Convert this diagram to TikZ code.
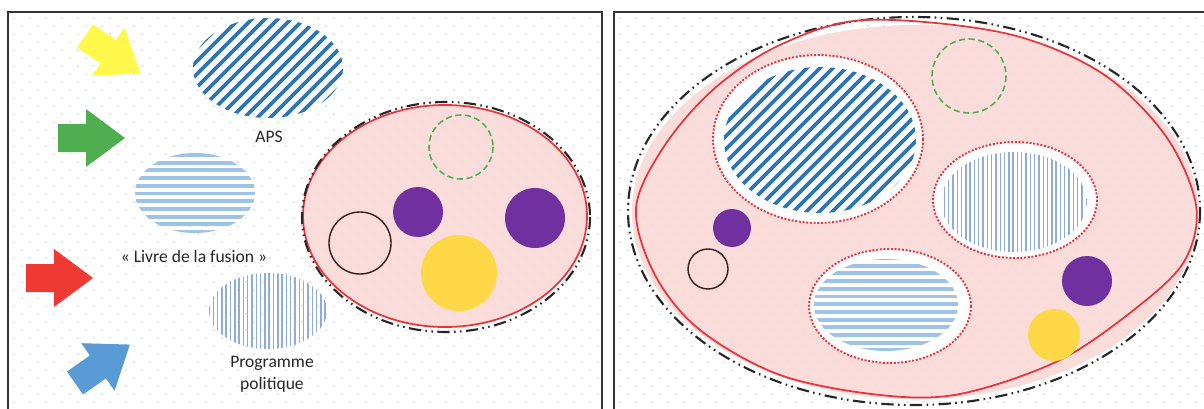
\documentclass[tikz,border=0pt]{standalone}
\usepackage{fontspec}
\setmainfont{Carlito}
\usepackage{xcolor}
\usepackage{tikz}
\definecolor{blobpink}{HTML}{F9D6D5}
\definecolor{blobred}{HTML}{E8343A}
\definecolor{dotpurple}{HTML}{7030A0}
\definecolor{dotgold}{HTML}{FFD848}
\definecolor{greenline}{HTML}{4FB052}
\definecolor{ringbrown}{HTML}{3A1C1C}
\definecolor{apsblue}{HTML}{2E75B6}
\definecolor{livreblue}{HTML}{9DC3E6}
\definecolor{progblue}{HTML}{8FAADC}
\definecolor{arrowyellow}{HTML}{FFF84A}
\definecolor{arrowgreen}{HTML}{4FAE4F}
\definecolor{arrowred}{HTML}{EE3A33}
\definecolor{arrowblue}{HTML}{5B9BD5}

\begin{document}
\begin{tikzpicture}[x=0.02cm,y=-0.02cm,font=\fontsize{10}{12.5}\selectfont,
  frame/.style={draw=black!80,line width=1pt},
  griddot/.style={fill=black!20},
  blobline/.style={draw=blobred,line width=1pt},
  dashdot/.style={draw=black!85,line width=1.2pt,
    dash pattern=on 7pt off 2.5pt on 0.9pt off 2.5pt on 0.9pt off 2.5pt},
  seam/.style={draw=blobred,line width=1.1pt,dash pattern=on 1.2pt off 0.9pt},
  greendash/.style={draw=greenline,line width=0.9pt,dash pattern=on 3.5pt off 2pt},
  ring/.style={draw=ringbrown,line width=0.8pt},
  lbl/.style={align=center,text=black!85,inner sep=1pt},
  bigarrow/.pic={\fill[pic actions] (0,-14) -- (28,-14) -- (28,-29) -- (67,0)
    -- (28,29) -- (28,14) -- (0,14) -- cycle;}]
  \useasboundingbox (0,0) rectangle (1204,409);
  \clip (0,0) rectangle (1204,409);
  % dotted paper
  \begin{scope}
    \clip (8,12) rectangle (602,409);
    \foreach \j in {0,...,50} \foreach \i in {0,...,37}
      \fill[griddot] ({14+16*\i+8*mod(\j,2)},{18+8*\j}) circle[radius=0.9];
  \end{scope}
  \begin{scope}
    \clip (614,12) rectangle (1204,409);
    \foreach \j in {0,...,50} \foreach \i in {0,...,37}
      \fill[griddot] ({620+16*\i+8*mod(\j,2)},{18+8*\j}) circle[radius=0.9];
  \end{scope}

  % left panel: arrows
  \pic[fill=arrowyellow,rotate=-34] at (85,36) {bigarrow};
  \pic[fill=arrowgreen] at (58,138) {bigarrow};
  \pic[fill=arrowred] at (26,278) {bigarrow};
  \pic[fill=arrowblue,rotate=35] at (75,383) {bigarrow};
  % left panel: hatched sources
  \begin{scope}
    \clip (268,68) ellipse[x radius=75,y radius=50];
    \foreach \c in {-91,-78,...,91}
      \draw[apsblue,line width=2.2pt] ({158+\c},178) -- ({378+\c},-42);
  \end{scope}
  \begin{scope}
    \clip (195,193) ellipse[x radius=60,y radius=40];
    \foreach \y in {155,162.7,...,235}
      \draw[livreblue,line width=2.2pt] (130,\y) -- (260,\y);
  \end{scope}
  \begin{scope}
    \clip (268,311) ellipse[x radius=59,y radius=38];
    \foreach \x in {209,213.3,...,328}
      \draw[progblue,line width=0.8pt] (\x,270) -- (\x,352);
  \end{scope}
  \node[lbl] (aps) at (269,137) {APS};
  \node[lbl] (livre) at (194,256) {« Livre de la fusion »};
  \node[lbl] (prog) at (272,374) {Programme\\politique};
  % left panel: blob
  \fill[blobpink,fill opacity=0.85] (445,216) ellipse[x radius=142,y radius=111];
  \draw[greendash] (461,147) circle[radius=32];
  \fill[dotpurple] (418,212) circle[radius=25];
  \fill[dotpurple] (535,218) circle[radius=30];
  \draw[ring] (360,243) circle[radius=31];
  \fill[dotgold] (459,273) circle[radius=38];
  \draw[blobline] (445,216) ellipse[x radius=142,y radius=111];
  \draw[dashdot] (446,217) ellipse[x radius=144,y radius=115];

  % right panel: blob
  \fill[blobpink,fill opacity=0.85] (915,212) ellipse[x radius=283,y radius=187];
  \draw[dashdot] (914,211) ellipse[x radius=286,y radius=194];
  \draw[blobline] plot[smooth cycle,tension=0.55] coordinates {(636,208) (665,145)
    (715,88) (780,45) (865,20) (1004,33) (1100,72) (1165,135) (1196,205)
    (1185,260) (1140,305) (1060,360) (960,394) (880,395) (780,375) (700,330)
    (655,275)};
  % APS inside
  \fill[white] (818,139) ellipse[x radius=106,y radius=85];
  \begin{scope}
    \clip (820,140) ellipse[x radius=96,y radius=73];
    \foreach \c in {-124,-111,...,124}
      \draw[apsblue,line width=2.2pt] ({680+\c},280) -- ({960+\c},0);
  \end{scope}
  \draw[seam] (818,139) ellipse[x radius=105,y radius=84];
  % Programme inside
  \fill[white] (1015,200) ellipse[x radius=83,y radius=59];
  \begin{scope}
    \clip (1014,202) ellipse[x radius=73,y radius=50];
    \foreach \x in {940,944.3,...,1090}
      \draw[progblue,line width=0.8pt] (\x,145) -- (\x,260);
  \end{scope}
  \draw[seam] (1015,200) ellipse[x radius=82,y radius=58];
  % Livre inside
  \fill[white] (890,306) ellipse[x radius=82,y radius=58];
  \begin{scope}
    \clip (886,305) ellipse[x radius=72,y radius=46];
    \foreach \y in {258,265.7,...,355}
      \draw[livreblue,line width=2.2pt] (805,\y) -- (975,\y);
  \end{scope}
  \draw[seam] (890,306) ellipse[x radius=81,y radius=57];
  % loose members
  \draw[greendash] (969,76) circle[radius=37];
  \fill[dotpurple] (732,228) circle[radius=19];
  \draw[ring] (708,269) circle[radius=20];
  \fill[dotpurple] (1087,281) circle[radius=25];
  \fill[dotgold] (1054,335) circle[radius=26];

  % frames
  \draw[frame] (8,12) rectangle (602,420);
  \draw[frame] (614,12) rectangle (1212,420);
\end{tikzpicture}
\end{document}
